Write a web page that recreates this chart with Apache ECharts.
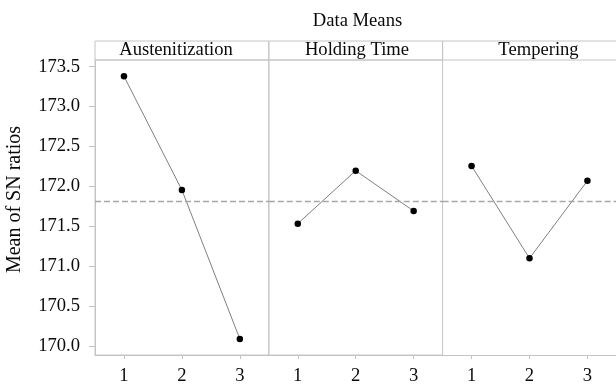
<!DOCTYPE html>
<html>
<head>
<meta charset="utf-8">
<script src="https://cdn.jsdelivr.net/npm/echarts@6/dist/echarts.min.js"></script>
<style>
html,body{margin:0;padding:0;background:#fff;}
#chart{width:616px;height:386px;}
</style>
</head>
<body>
<div id="chart"></div>
<script>
// ---- data ----
const chartTitle = 'Data Means';
const yAxisTitle = 'Mean of SN ratios';
const factors = ['Austenitization', 'Holding Time', 'Tempering'];
const levels = ['1', '2', '3'];
const austenitization = [173.38, 171.955, 170.088];
const holdingTime = [171.533, 172.197, 171.692];
const tempering = [172.256, 171.099, 172.071];
const yTicks = [170.0, 170.5, 171.0, 171.5, 172.0, 172.5, 173.0, 173.5];
const yMin = 169.887;
const yMax = 173.584;

const seriesValues = [austenitization, holdingTime, tempering];
const allVals = [].concat(austenitization, holdingTime, tempering);
const grandMean = allVals.reduce((a, b) => a + b, 0) / allVals.length;

// ---- layout / style ----
const FONT = '"Liberation Serif", "Times New Roman", serif';
const FS = 18.6;
const AX = '#c4c4c4';
const TXT = '#0a0a0a';
const panelLeft = [95, 268.8, 442.6];
const panelW = 173.8;
const headerCenters = [176, 357, 538.5];
const plotTop = 60, plotBottom = 386 - 355;

const grids = [], xAxes = [], yAxes = [], series = [], titles = [];

titles.push({
  text: chartTitle, left: 357.5, top: 12, textAlign: 'center', padding: 0,
  textStyle: { fontFamily: FONT, fontSize: FS, fontWeight: 'normal', color: TXT }
});

for (let i = 0; i < 3; i++) {
  // plot panel (last panel runs past the right edge: no right border)
  grids.push({ left: panelLeft[i], width: panelW, top: plotTop, bottom: plotBottom,
    outerBoundsMode: 'none',
    show: i < 2, borderColor: AX, borderWidth: 1, backgroundColor: 'transparent' });
  xAxes.push({
    type: 'category', gridIndex: i, data: levels, boundaryGap: true,
    axisLine: { show: true, lineStyle: { color: AX, width: 1 } },
    axisTick: { show: true, alignWithLabel: true, length: 4, lineStyle: { color: AX } },
    axisLabel: { fontFamily: FONT, fontSize: FS, color: TXT, margin: 12 },
    splitLine: { show: false }
  });
  yAxes.push({
    type: 'value', gridIndex: i, min: yMin, max: yMax,
    show: i === 0,
    axisLine: { show: true, lineStyle: { color: AX, width: 1 } },
    axisTick: { show: true, length: 6, lineStyle: { color: AX }, customValues: yTicks },
    axisLabel: { fontFamily: FONT, fontSize: FS, color: TXT, margin: 15,
      customValues: yTicks, formatter: v => Number(v).toFixed(1) },
    splitLine: { show: false }
  });
  series.push({
    type: 'line', xAxisIndex: i, yAxisIndex: i, data: seriesValues[i],
    symbol: 'circle', symbolSize: 6.5,
    itemStyle: { color: '#000' },
    lineStyle: { color: '#808080', width: 1 },
    emphasis: { disabled: true },
    markLine: {
      silent: true, symbol: 'none', animation: false,
      label: { show: false },
      lineStyle: { color: '#a8a8a8', width: 1.3, type: [6, 3] },
      data: [{ yAxis: grandMean }]
    },
    z: 3
  });
  titles.push({
    text: factors[i], left: headerCenters[i], top: 41, textAlign: 'center', padding: 0,
    textStyle: { fontFamily: FONT, fontSize: FS, fontWeight: 'normal', color: TXT }
  });
}
// header strips (the last one runs past the right edge)
for (let i = 0; i < 3; i++) {
  grids.push({ left: panelLeft[i], width: i < 2 ? panelW : panelW + 30, top: 41, height: 19,
    outerBoundsMode: 'none',
    show: true, borderColor: AX, borderWidth: 1, backgroundColor: 'transparent' });
  xAxes.push({ type: 'value', gridIndex: 3 + i, show: false });
  yAxes.push({ type: 'value', gridIndex: 3 + i, show: false });
}

const chart = echarts.init(document.getElementById('chart'), null, { renderer: 'canvas' });
chart.setOption({
  animation: false,
  backgroundColor: '#fff',
  title: titles,
  grid: grids,
  xAxis: xAxes,
  yAxis: yAxes,
  series: series,
  graphic: [{
    type: 'text', x: 15, y: 199.5, rotation: Math.PI / 2, silent: true,
    style: { text: yAxisTitle, fontFamily: FONT, fontSize: 20, fill: TXT,
      align: 'center', verticalAlign: 'middle', textAlign: 'center', textVerticalAlign: 'middle' }
  }]
});
</script>
</body>
</html>
